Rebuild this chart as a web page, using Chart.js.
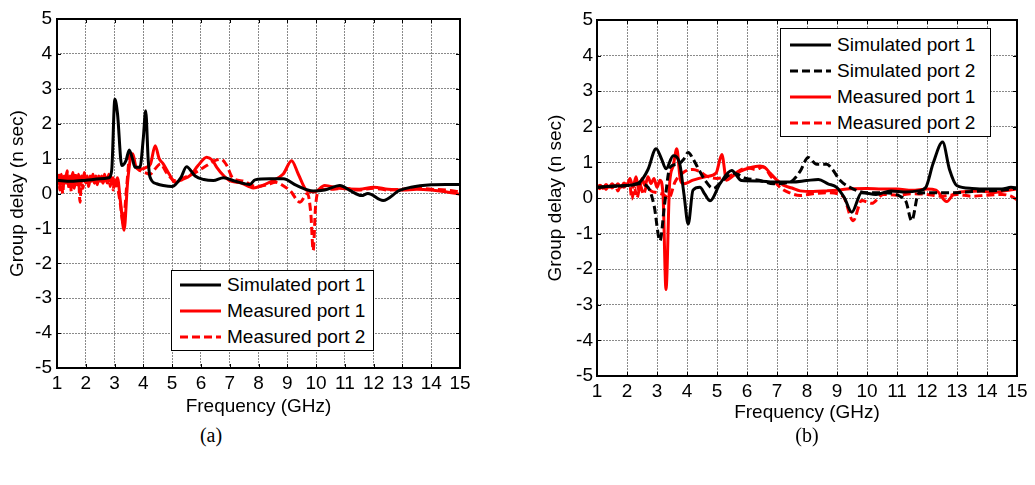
<!DOCTYPE html>
<html>
<head>
<meta charset="utf-8">
<script src="https://cdn.jsdelivr.net/npm/chart.js@4.4.0/dist/chart.umd.min.js"></script>
<style>
  body { margin: 0; background: #fff; width: 1035px; height: 485px; position: relative; overflow: hidden;
         font-family: "Liberation Sans", Arial, sans-serif; }
  canvas { position: absolute; top: 0; }
  #chartA { left: 0; }
  #chartB { left: 540px; }
  .legend { position: absolute; border: 1px solid #000; background: #fff; font-size: 19px; color: #000; box-sizing: border-box; }
  .legend .row { display: flex; align-items: center; height: 26px; white-space: nowrap; }
  .legend svg { display: block; margin-right: 6px; }
  .cap { position: absolute; top: 424px; transform: translateX(-50%); font-family: "Liberation Serif", "Times New Roman", serif; font-size: 20px; }
</style>
</head>
<body>
<canvas id="chartA" width="490" height="420"></canvas>
<canvas id="chartB" width="495" height="428"></canvas>
<div class="legend" id="legA" style="left:171px;top:270px;width:203px;height:81px;padding:1px 0 0 8px"></div>
<div class="legend" id="legB" style="left:780px;top:28px;width:211px;height:109px;padding:3px 0 0 9px"></div>
<div class="cap" style="left:211px">(a)</div>
<div class="cap" style="left:807px">(b)</div>

<script>
// (a) 시뮬레이션 포트 1
var simA1F = [1, 1.5, 2, 2.5, 2.8, 2.9, 3.01, 3.1, 3.25, 3.4, 3.51, 3.62, 3.71, 3.88, 4.0, 4.08, 4.17, 4.23, 4.46, 4.69, 5.0, 5.3, 5.5, 5.8, 6.1, 6.43, 6.78, 7.2, 7.7, 7.88, 8.4, 8.86, 9.32, 9.9, 10.3, 10.83, 11.17, 11.58, 11.8, 12.33, 12.9, 13.3, 14, 14.5, 15];
var simA1V = [0.38, 0.35, 0.38, 0.42, 0.45, 0.66, 2.7, 2.3, 0.8, 0.95, 1.25, 1.0, 0.75, 0.75, 1.6, 2.37, 0.94, 0.47, 0.28, 0.23, 0.2, 0.45, 0.77, 0.5, 0.4, 0.37, 0.45, 0.35, 0.26, 0.39, 0.42, 0.42, 0.23, 0.07, 0.1, 0.23, 0.09, -0.06, 0.0, -0.2, 0.09, 0.18, 0.25, 0.26, 0.26];
// (a) 측정 포트 1 — 1~3 GHz 구간은 잡음이 심함
var measA1F = [1.0, 1.05, 1.1, 1.15, 1.2, 1.25, 1.3, 1.35, 1.4, 1.45, 1.5, 1.55, 1.6, 1.65, 1.7, 1.75, 1.8, 1.85, 1.9, 1.95,
               2.0, 2.05, 2.1, 2.15, 2.2, 2.25, 2.3, 2.35, 2.4, 2.45, 2.5, 2.55, 2.6, 2.65, 2.7, 2.75, 2.8, 2.85, 2.9, 2.95, 3.0,
               3.1, 3.2, 3.33, 3.45, 3.55, 3.63, 3.75, 3.9, 4.1, 4.25, 4.41, 4.55, 4.69, 4.9, 5.1, 5.35, 5.62, 5.9, 6.2, 6.4, 6.55, 6.8, 7.0, 7.4, 7.82, 8.1, 8.4, 8.86, 9.15, 9.38, 9.67, 9.94, 10.3, 10.8, 11.5, 12, 12.5, 13, 13.5, 14, 14.5, 15];
var measA1V = [0.35, 0.5, 0.2, 0.55, 0.25, 0.45, 0.3, 0.6, 0.2, 0.5, 0.35, 0.6, 0.15, 0.45, 0.3, 0.55, 0.25, 0.5, 0.35, 0.6,
               0.3, 0.45, 0.25, 0.5, 0.4, 0.55, 0.3, 0.5, 0.35, 0.45, 0.4, 0.5, 0.3, 0.55, 0.4, 0.45, 0.35, 0.5, 0.3, 0.45, 0.2,
               0.45, -0.2, -1.05, 0.3, 1.0, 1.14, 0.75, 0.7, 0.75, 0.85, 1.37, 1.0, 0.85, 0.55, 0.32, 0.4, 0.51, 0.8, 1.04, 0.95, 0.75, 0.5, 0.37, 0.3, 0.16, 0.22, 0.33, 0.56, 0.94, 0.56, 0.09, 0.04, 0.23, 0.15, 0.12, 0.18, 0.12, 0.1, 0.12, 0.1, 0.05, -0.02];
// (a) 측정 포트 2
var measA2F = [1.0, 1.05, 1.1, 1.15, 1.2, 1.25, 1.3, 1.35, 1.4, 1.45, 1.5, 1.55, 1.6, 1.65, 1.7, 1.75, 1.8, 1.85, 1.9, 1.95,
               2.0, 2.05, 2.1, 2.15, 2.2, 2.25, 2.3, 2.35, 2.4, 2.45, 2.5, 2.55, 2.6, 2.65, 2.7, 2.75, 2.8, 2.85, 2.9, 2.95, 3.0,
               3.1, 3.2, 3.3, 3.42, 3.55, 3.7, 3.9, 4.05, 4.23, 4.4, 4.6, 4.8, 5.1, 5.4, 5.8, 6.2, 6.5, 6.7, 6.9, 7.1, 7.5, 7.9, 8.3, 8.6, 8.9, 9.1, 9.44, 9.7, 9.82, 9.9, 9.98, 10.1, 10.5, 11, 11.5, 12, 12.5, 13, 13.5, 14, 14.5, 15];
var measA2V = [0.3, 0.6, 0.1, 0.45, 0.0, 0.5, 0.35, 0.65, 0.15, 0.4, 0.05, 0.55, 0.3, 0.6, 0.2, 0.4, -0.25, 0.45, 0.15, 0.45,
               0.3, 0.5, 0.2, 0.45, 0.35, 0.5, 0.3, 0.45, 0.25, 0.5, 0.35, 0.45, 0.3, 0.5, 0.4, 0.3, 0.55, 0.2, 0.45, 0.1, 0.4,
               0.2, -0.3, -0.85, 0.2, 1.2, 0.8, 0.65, 0.6, 0.55, 0.7, 0.85, 0.6, 0.37, 0.45, 0.6, 0.8, 0.95, 0.98, 0.8, 0.45, 0.35, 0.2, 0.25, 0.32, 0.2, 0.08, -0.25, 0.0, -0.6, -1.63, -0.4, 0.1, 0.12, 0.15, 0.1, 0.15, 0.1, 0.12, 0.15, 0.12, 0.1, 0.05];

// (b) 시뮬레이션 포트 1
var simB1F = [1, 1.5, 2, 2.43, 2.7, 2.97, 3.15, 3.3, 3.54, 3.76, 3.9, 4.04, 4.2, 4.43, 4.6, 4.77, 5.1, 5.49, 5.82, 6.4, 6.88, 7.5, 7.99, 8.38, 8.7, 8.99, 9.25, 9.49, 9.82, 10.3, 10.8, 11.3, 11.7, 11.96, 12.2, 12.52, 12.75, 12.99, 13.5, 14, 14.5, 14.8, 15];
var simB1V = [0.3, 0.33, 0.35, 0.45, 0.8, 1.38, 1.1, 0.82, 1.19, 0.95, 0.1, -0.73, 0.22, 0.3, 0.1, -0.08, 0.4, 0.77, 0.49, 0.48, 0.45, 0.45, 0.49, 0.52, 0.4, 0.3, 0.0, -0.4, 0.15, 0.1, 0.2, 0.17, 0.2, 0.3, 0.96, 1.57, 0.8, 0.35, 0.27, 0.25, 0.25, 0.3, 0.28];
// (b) 시뮬레이션 포트 2
var simB2F = [1, 1.5, 2, 2.4, 2.7, 2.9, 3.1, 3.25, 3.43, 3.7, 3.9, 4.04, 4.2, 4.38, 4.6, 4.87, 5.2, 5.53, 5.97, 6.4, 6.88, 7.44, 7.77, 8.04, 8.32, 8.66, 8.85, 9.1, 9.43, 10, 10.5, 11.1, 11.3, 11.49, 11.72, 12, 12.5, 13, 13.5, 14, 14.5, 15];
var simB2V = [0.3, 0.33, 0.35, 0.4, 0.3, -0.2, -1.2, -0.2, 0.86, 0.95, 1.1, 1.28, 1.1, 0.82, 0.5, 0.27, 0.5, 0.7, 0.55, 0.5, 0.4, 0.45, 0.75, 1.14, 0.95, 0.95, 0.8, 0.5, 0.3, 0.15, 0.15, 0.05, -0.1, -0.64, 0.13, 0.15, 0.15, 0.15, 0.18, 0.2, 0.22, 0.28];
// (b) 측정 포트 1
var measB1F = [1, 1.1, 1.2, 1.3, 1.4, 1.5, 1.6, 1.7, 1.8, 1.9, 2.0, 2.1, 2.2, 2.3, 2.4, 2.5, 2.6, 2.7, 2.8, 2.9, 3.0, 3.1, 3.2, 3.3, 3.42, 3.54, 3.66, 3.78, 3.9, 4.2, 4.4, 4.65, 4.97, 5.16, 5.32, 5.5, 5.77, 6.1, 6.43, 6.6, 6.77, 7.0, 7.21, 7.5, 7.77, 8.2, 8.66, 9.0, 9.43, 10, 10.5, 11, 11.5, 12, 12.3, 12.66, 12.9, 13.3, 13.8, 14.2, 14.6, 15];
var measB1V = [0.3, 0.36, 0.27, 0.38, 0.3, 0.4, 0.32, 0.4, 0.3, 0.42, 0.35, 0.55, 0.3, 0.6, 0.2, 0.55, 0.35, 0.6, 0.4, 0.55, 0.3, 0.5, 0.1, -2.57, 0.4, 0.9, 1.38, 0.5, 0.4, 0.5, 0.55, 0.6, 0.7, 1.22, 0.5, 0.6, 0.75, 0.85, 0.9, 0.85, 0.7, 0.5, 0.36, 0.28, 0.2, 0.18, 0.2, 0.22, 0.26, 0.27, 0.25, 0.25, 0.22, 0.25, 0.22, -0.1, 0.12, 0.18, 0.2, 0.15, 0.2, 0.25];
// (b) 측정 포트 2
var measB2F = [1, 1.1, 1.2, 1.3, 1.4, 1.5, 1.6, 1.7, 1.8, 1.9, 2.0, 2.1, 2.16, 2.25, 2.33, 2.45, 2.55, 2.66, 2.8, 3.0, 3.2, 3.4, 3.6, 3.9, 4.2, 4.4, 4.7, 5.0, 5.5, 6.0, 6.3, 6.54, 6.8, 7.1, 7.4, 7.77, 8.2, 8.66, 9.2, 9.54, 9.82, 10.16, 10.54, 11, 11.5, 12, 12.5, 13, 13.5, 14, 14.5, 14.8, 15];
var measB2V = [0.32, 0.26, 0.4, 0.24, 0.4, 0.28, 0.36, 0.2, 0.38, 0.3, 0.4, 0.35, -0.03, 0.3, 0.0, 0.35, 0.1, 0.35, 0.2, 0.15, 0.1, 0.0, 0.45, 0.73, 0.8, 0.75, 0.6, 0.55, 0.65, 0.85, 0.8, 0.88, 0.6, 0.3, 0.15, 0.07, 0.12, 0.15, 0.05, -0.64, -0.07, -0.15, 0.1, 0.08, 0.12, 0.1, 0.05, 0.1, 0.05, 0.08, 0.1, 0.05, -0.05];

var xTicks = [1, 2, 3, 4, 5, 6, 7, 8, 9, 10, 11, 12, 13, 14, 15];
var yTicks = [-5, -4, -3, -2, -1, 0, 1, 2, 3, 4, 5];
var xTitle = 'Frequency (GHz)';
var yTitle = 'Group delay (n sec)';

var FONT = '"Liberation Sans", Arial, sans-serif';

function pts(f, v) {
  return f.map(function (x, i) { return { x: x, y: v[i] }; });
}

function series(label, f, v, color, dashed) {
  return {
    label: label,
    data: pts(f, v),
    borderColor: color,
    borderWidth: 3,
    borderDash: dashed ? [8, 4] : [],
    pointRadius: 0,
    fill: false,
    cubicInterpolationMode: 'monotone'
  };
}

// 축 테두리 + 안쪽 눈금 (MATLAB 스타일)
var framePlugin = {
  id: 'frame',
  afterDatasetsDraw: function (chart) {
    var ctx = chart.ctx, a = chart.chartArea, sx = chart.scales.x, sy = chart.scales.y;
    ctx.save();
    ctx.strokeStyle = '#000';
    ctx.lineWidth = 1;
    ctx.beginPath();
    sx.ticks.forEach(function (t) {
      var p = Math.round(sx.getPixelForValue(t.value)) + 0.5;
      ctx.moveTo(p, a.bottom); ctx.lineTo(p, a.bottom - 4);
      ctx.moveTo(p, a.top); ctx.lineTo(p, a.top + 4);
    });
    sy.ticks.forEach(function (t) {
      var p = Math.round(sy.getPixelForValue(t.value)) + 0.5;
      ctx.moveTo(a.left, p); ctx.lineTo(a.left + 4, p);
      ctx.moveTo(a.right, p); ctx.lineTo(a.right - 4, p);
    });
    ctx.stroke();
    ctx.lineWidth = 2;
    ctx.strokeRect(a.left, a.top, a.right - a.left, a.bottom - a.top);
    ctx.restore();
  }
};

function makeChart(id, datasets, lay) {
  return new Chart(document.getElementById(id), {
    type: 'line',
    data: { datasets: datasets },
    plugins: [framePlugin],
    options: {
      responsive: false,
      animation: false,
      layout: { padding: { top: lay.top, right: lay.right, bottom: 0, left: 0 } },
      plugins: { legend: { display: false }, tooltip: { enabled: false } },
      scales: {
        x: {
          type: 'linear', min: 1, max: 15,
          afterBuildTicks: function (s) { s.ticks = xTicks.map(function (v) { return { value: v }; }); },
          afterFit: function (s) { s.height = 52; },
          ticks: { autoSkip: false, maxRotation: 0, padding: 4, color: '#000', font: { family: FONT, size: 19 } },
          grid: { color: '#8a8a8a', lineWidth: 1, drawTicks: false },
          border: { display: false, dash: [2, 1] },
          title: { display: true, text: xTitle, color: '#000', font: { family: FONT, size: 19 }, padding: { top: 0, bottom: lay.xtPad } }
        },
        y: {
          type: 'linear', min: -5, max: 5,
          afterBuildTicks: function (s) { s.ticks = yTicks.map(function (v) { return { value: v }; }); },
          afterFit: function (s) { s.width = 57; },
          ticks: { padding: lay.ytickPad, color: '#000', font: { family: FONT, size: 19 } },
          grid: { color: '#8a8a8a', lineWidth: 1, drawTicks: false },
          border: { display: false, dash: [2, 1] },
          title: { display: true, text: yTitle, color: '#000', font: { family: FONT, size: 19 }, padding: { top: lay.ytPad, bottom: 0 } }
        }
      }
    }
  });
}

var setsA = [
  series('Simulated port 1', simA1F, simA1V, '#000000', false),
  series('Measured port 1', measA1F, measA1V, '#ff0000', false),
  series('Measured port 2', measA2F, measA2V, '#ff0000', true)
];
var setsB = [
  series('Simulated port 1', simB1F, simB1V, '#000000', false),
  series('Simulated port 2', simB2F, simB2V, '#000000', true),
  series('Measured port 1', measB1F, measB1V, '#ff0000', false),
  series('Measured port 2', measB2F, measB2V, '#ff0000', true)
];

makeChart('chartA', setsA, { top: 19, right: 30, xtPad: 1.6, ytPad: 6, ytickPad: 5 });
makeChart('chartB', setsB, { top: 20, right: 18, xtPad: 3.6, ytPad: 4.6, ytickPad: 4 });

// HTML 범례 (데이터셋에서 생성)
function buildLegend(elId, sets) {
  var el = document.getElementById(elId);
  sets.forEach(function (d) {
    var dash = d.borderDash.length ? ' stroke-dasharray="' + d.borderDash.join(' ') + '"' : '';
    el.insertAdjacentHTML('beforeend',
      '<div class="row"><svg width="41" height="6"><line x1="0" y1="3" x2="41" y2="3" stroke="' + d.borderColor +
      '" stroke-width="3"' + dash + '/></svg><span>' + d.label + '</span></div>');
  });
}
buildLegend('legA', setsA);
buildLegend('legB', setsB);
</script>
</body>
</html>
